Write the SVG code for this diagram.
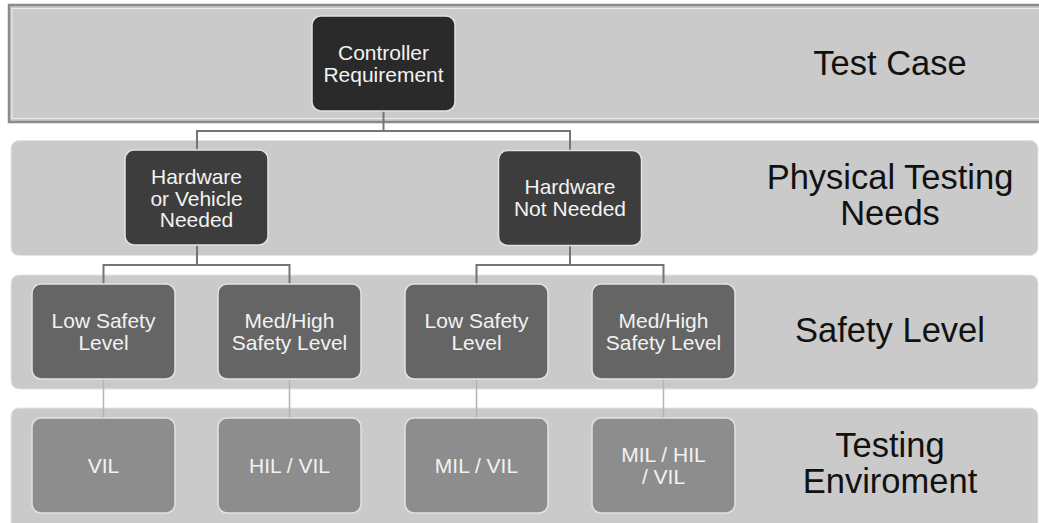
<svg xmlns="http://www.w3.org/2000/svg" width="1039" height="523" viewBox="0 0 1039 523">
  <style>
    .band { fill: #cacaca; stroke: #e4e4e4; stroke-width: 1; }
    .node { stroke: #e2e2e2; stroke-width: 1.5; }
    .lvl0 { fill: #2a2a2a; }
    .lvl1 { fill: #3d3d3d; }
    .lvl2 { fill: #656565; }
    .lvl3 { fill: #8d8d8d; }
    .ntext { font-family: "Liberation Sans", Arial, sans-serif; font-size: 21px; fill: #f2f2f2; text-anchor: middle; }
    .label { font-family: "Liberation Sans", Arial, sans-serif; font-size: 34.5px; fill: #111111; text-anchor: middle; }
    .link { fill: none; stroke: #757575; stroke-width: 2; }
    .link-light { fill: none; stroke: #b4b4b4; stroke-width: 1.5; }
  </style>
  <rect width="1039" height="523" fill="#ffffff"/>

  <!-- layer bands -->
  <g id="bands">
    <rect x="9" y="5" width="1040" height="117" fill="#cacaca" stroke="#8a8a8a" stroke-width="2.5"/>
    <rect x="12" y="8.5" width="1040" height="110" fill="none" stroke="#ececec" stroke-width="1"/>
    <rect class="band" x="11" y="140.5" width="1027" height="115" rx="8"/>
    <rect class="band" x="11" y="275" width="1027" height="114" rx="8"/>
    <rect class="band" x="11" y="408" width="1027" height="125" rx="8"/>
  </g>

  <!-- connectors -->
  <g id="connectors">
    <path class="link" d="M383.5 111 V131 M197 150 V131 H570 V150"/>
    <path class="link" d="M197 245 V265 M103.5 284 V265 H289.5 V284"/>
    <path class="link" d="M570 246 V265 M476.5 284 V265 H663.5 V284"/>
    <path class="link-light" d="M103.5 379 V418 M289.5 379 V418 M476.5 379 V418 M663.5 379 V418"/>
  </g>

  <!-- layer labels -->
  <g id="layer-labels">
    <text class="label" x="890" y="75">Test Case</text>
    <text class="label" x="890" y="188.5">Physical Testing<tspan x="890" dy="36.5">Needs</tspan></text>
    <text class="label" x="890" y="342">Safety Level</text>
    <text class="label" x="890" y="456.5">Testing<tspan x="890" dy="36.5">Enviroment</tspan></text>
  </g>

  <g id="controller-requirement">
    <rect class="node lvl0" x="312" y="16" width="143" height="95" rx="9"/>
    <text class="ntext" x="383.5" y="60">Controller<tspan x="383.5" dy="22">Requirement</tspan></text>
  </g>

  <g id="hardware-needed">
    <rect class="node lvl1" x="125" y="150" width="143" height="95" rx="9"/>
    <text class="ntext" x="196.5" y="184">Hardware<tspan x="196.5" dy="21.5">or Vehicle</tspan><tspan x="196.5" dy="21.5">Needed</tspan></text>
  </g>

  <g id="hardware-not-needed">
    <rect class="node lvl1" x="498.5" y="150.5" width="143" height="95" rx="9"/>
    <text class="ntext" x="570" y="194">Hardware<tspan x="570" dy="21.5">Not Needed</tspan></text>
  </g>

  <g id="safety-low-hw">
    <rect class="node lvl2" x="32" y="284" width="143" height="95" rx="9"/>
    <text class="ntext" x="103.5" y="328">Low Safety<tspan x="103.5" dy="21.5">Level</tspan></text>
  </g>

  <g id="safety-high-hw">
    <rect class="node lvl2" x="218" y="284" width="143" height="95" rx="9"/>
    <text class="ntext" x="289.5" y="328">Med/High<tspan x="289.5" dy="21.5">Safety Level</tspan></text>
  </g>

  <g id="safety-low-sw">
    <rect class="node lvl2" x="405" y="284" width="143" height="95" rx="9"/>
    <text class="ntext" x="476.5" y="328">Low Safety<tspan x="476.5" dy="21.5">Level</tspan></text>
  </g>

  <g id="safety-high-sw">
    <rect class="node lvl2" x="592" y="284" width="143" height="95" rx="9"/>
    <text class="ntext" x="663.5" y="328">Med/High<tspan x="663.5" dy="21.5">Safety Level</tspan></text>
  </g>

  <g id="env-vil">
    <rect class="node lvl3" x="32" y="418" width="143" height="95" rx="9"/>
    <text class="ntext" x="103.5" y="473">VIL</text>
  </g>

  <g id="env-hil-vil">
    <rect class="node lvl3" x="218" y="418" width="143" height="95" rx="9"/>
    <text class="ntext" x="289.5" y="473">HIL / VIL</text>
  </g>

  <g id="env-mil-vil">
    <rect class="node lvl3" x="405" y="418" width="143" height="95" rx="9"/>
    <text class="ntext" x="476.5" y="473">MIL / VIL</text>
  </g>

  <g id="env-mil-hil-vil">
    <rect class="node lvl3" x="592" y="418" width="143" height="95" rx="9"/>
    <text class="ntext" x="663.5" y="462">MIL / HIL<tspan x="663.5" dy="22">/ VIL</tspan></text>
  </g>
</svg>
